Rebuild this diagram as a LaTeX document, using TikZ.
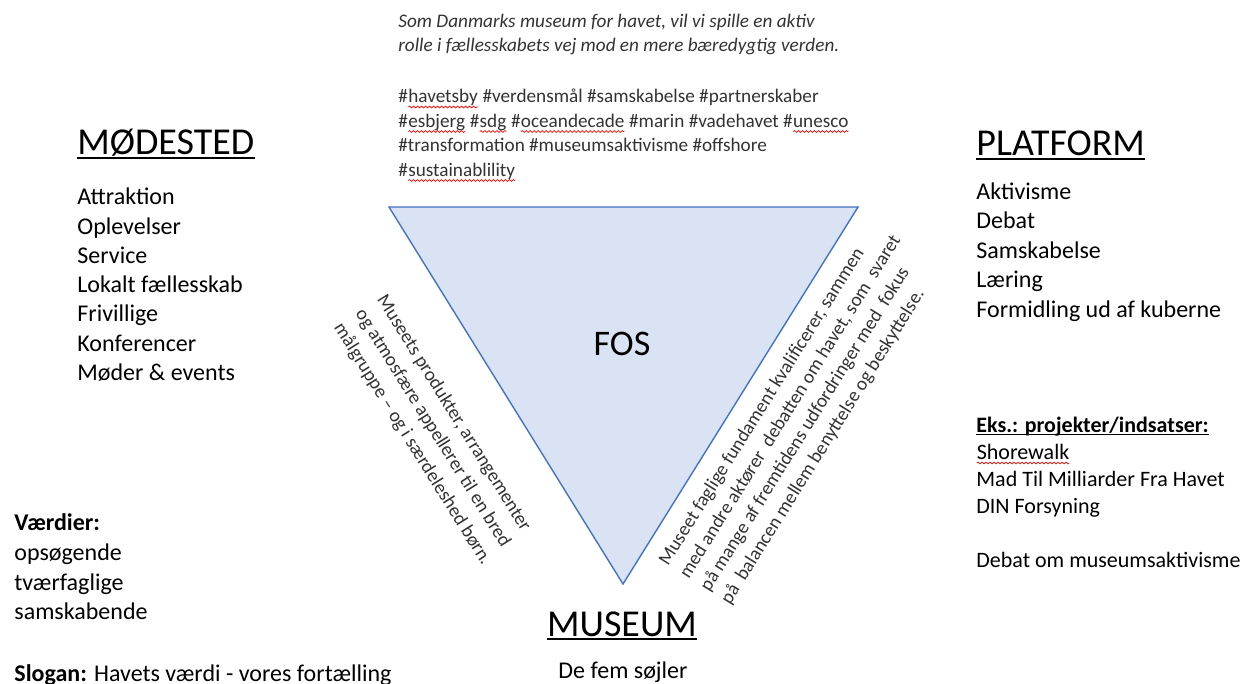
\documentclass[tikz,border=0pt]{standalone}
\usepackage{fontspec}
\setmainfont{Carlito}
\usetikzlibrary{decorations.pathmorphing}
\definecolor{trifill}{HTML}{DAE3F3}
\definecolor{triline}{HTML}{4472C4}
\definecolor{notecol}{HTML}{333333}
\newcommand\sqw[1]{\tikz[baseline=(sqwn.base)]{\node[inner sep=0pt,outer sep=0pt,rotate=0] (sqwn) {#1};\draw[red,line width=0.35pt,decorate,decoration={snake,amplitude=0.45pt,segment length=2pt}] ([yshift=-2pt]sqwn.base west) -- ([yshift=-2pt]sqwn.base east);}}
\tikzset{
  head/.style={font=\fontsize{19}{23}\selectfont, inner sep=0pt, anchor=base west},
  body/.style={font=\fontsize{12}{15}\selectfont, inner sep=0pt, anchor=base west},
  bodybold/.style={font=\fontsize{12}{15}\selectfont\bfseries, inner sep=0pt, anchor=base west},
  small/.style={font=\fontsize{11}{13}\selectfont, inner sep=0pt, anchor=base west},
  smallbold/.style={font=\fontsize{11}{13}\selectfont\bfseries, inner sep=0pt, anchor=base west},
  note/.style={font=\fontsize{9.6}{12}\selectfont, inner sep=0pt, anchor=base west, text=notecol},
  noteit/.style={font=\fontsize{9.6}{12}\selectfont\itshape, inner sep=0pt, anchor=base west, text=notecol},
  ulthick/.style={line width=1pt},
  ulthin/.style={line width=0.6pt},
  tri/.style={fill=trifill, draw=triline, line width=0.7pt},
}
\begin{document}
\begin{tikzpicture}[x=0.5pt,y=-0.5pt]
\useasboundingbox (0,0) rectangle (1240,684);
\fill[white] (0,0) rectangle (1240,684);

% triangle
\coordinate (tl) at (389,207);
\coordinate (tr) at (858,207);
\coordinate (tb) at (623,584);
\draw[tri] (tl) -- (tr) -- (tb) -- cycle;
\node[font=\fontsize{18}{22}\selectfont, inner sep=0pt, anchor=base] (fos) at (622,355) {FOS};

% top text
\node[noteit] (i1) at (398,28) {Som Danmarks museum for havet, vil vi spille en aktiv};
\node[noteit] (i2) at (398,52) {rolle i fællesskabets vej mod en mere bæredygtig verden.};
\node[note] (h1) at (398,103) {\#\sqw{havetsby} \#verdensmål \#samskabelse \#partnerskaber};
\node[note] (h2) at (398,127.5) {\#\sqw{esbjerg} \#\sqw{sdg} \#\sqw{oceandecade} \#marin \#vadehavet \#\sqw{unesco}};
\node[note] (h3) at (398,152) {\#transformation \#museumsaktivisme \#offshore};
\node[note] (h4) at (398,176.5) {\#\sqw{sustainablility}};

% MØDESTED
\node[head] (mod) at (77,155) {MØDESTED};
\draw[ulthick] ([yshift=-1.6pt]mod.base west) -- ([yshift=-1.6pt]mod.base east);
\foreach \t [count=\i from 0] in {Attraktion,Oplevelser,Service,Lokalt fællesskab,Frivillige,Konferencer,Møder \& events}
  \node[body] (m\i) at (77,{205+29.2*\i}) {\t};

% PLATFORM
\node[head] (plat) at (976,156) {PLATFORM};
\draw[ulthick] ([yshift=-1.6pt]plat.base west) -- ([yshift=-1.6pt]plat.base east);
\foreach \t [count=\i from 0] in {Aktivisme,Debat,Samskabelse,Læring,Formidling ud af kuberne}
  \node[body] (p\i) at (976,{199+29.5*\i}) {\t};

% Eks
\node[smallbold] (eks) at (976,432) {Eks.: projekter/indsatser:};
\draw[ulthin] ([yshift=-1.1pt]eks.base west) -- ([yshift=-1.1pt]eks.base east);
\node[small] (e1) at (976,459) {\sqw{Shorewalk}};
\node[small] (e2) at (976,486) {Mad Til Milliarder Fra Havet};
\node[small] (e3) at (976,513) {DIN Forsyning};
\node[small] (e4) at (976,567) {Debat om museumsaktivisme};

% Værdier
\node[bodybold] (vaer) at (14,530) {Værdier:};
\node[body] (v1) at (14,560) {opsøgende};
\node[body] (v2) at (14,590) {tværfaglige};
\node[body] (v3) at (14,619) {samskabende};
\node[body] (slog) at (14,681) {\textbf{Slogan:} Havets værdi - vores fortælling};

% MUSEUM
\node[head, anchor=base] (mus) at (622,636) {MUSEUM};
\draw[ulthick] ([yshift=-1.6pt]mus.base west) -- ([yshift=-1.6pt]mus.base east);
\node[body, anchor=base] (fem) at (623,678) {De fem søjler};

% rotated left text
\foreach \t [count=\i from 0] in {{Museets produkter, arrangementer},{og atmosfære appellerer til en bred},{målgruppe – og i særdeleshed børn.}}
  \node[note, rotate=-58] (l\i) at ({376.5-21.5*\i},{299.6+14*\i}) {\t};

% rotated right text
\foreach \t [count=\i from 0] in {{Museet faglige fundament kvalificerer, sammen},{med andre aktører\ \ debatten om havet, som\ \ svaret},{på mange af fremtidens udfordringer med\ \ fokus},{på\ \ balancen mellem benyttelse og beskyttelse.}}
  \node[note, rotate=58] (r\i) at ({668+20.6*\i},{567+12.9*\i}) {\t};
\end{tikzpicture}
\end{document}
